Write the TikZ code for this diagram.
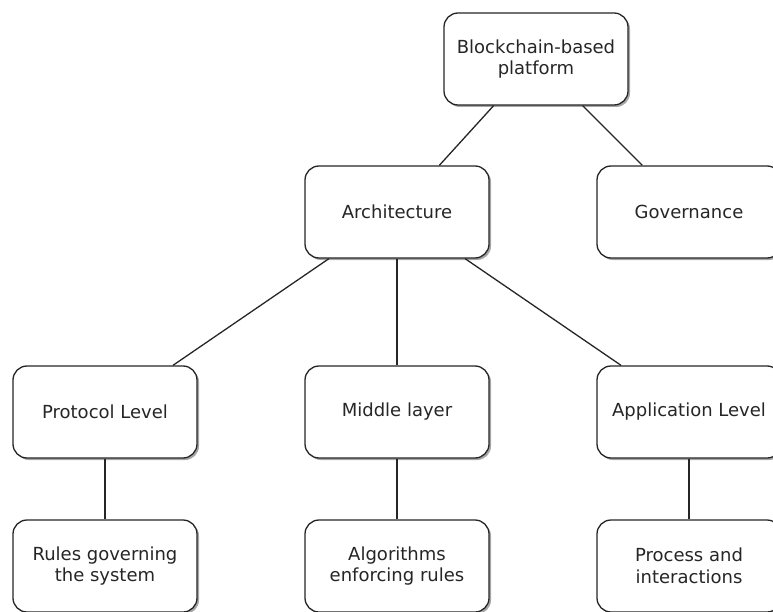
\documentclass[tikz,border=0pt]{standalone}
\usepackage{fontspec}
\setmainfont{DejaVu Sans}
\usetikzlibrary{shadows}
\begin{document}
\begin{tikzpicture}[x=1pt,y=-1pt,
  box/.style={draw=black!85, line width=1.3pt, fill=white, rounded corners=14pt,
    minimum width=184pt, minimum height=92pt, align=center, text=black!85,
    font=\fontsize{18}{21.5}\selectfont,
    drop shadow={shadow xshift=2pt, shadow yshift=-2pt, fill=black, opacity=0.35}},
  link/.style={draw=black!85, line width=1.3pt}]
  \useasboundingbox (0,0) rectangle (773,612);
  % tree of boxes
  \node[box] (root) at (536,59) {Blockchain-based\\platform};
  \node[box] (arch) at (397,212) {Architecture};
  \node[box] (gov)  at (689,212) {Governance};
  \node[box] (prot) at (105,412) {Protocol Level};
  \node[box] (mid)  at (397,412) {Middle layer};
  \node[box] (app)  at (689,412) {Application Level};
  \node[box] (rules) at (105,566) {Rules governing\\the system};
  \node[box] (algo)  at (397,566) {Algorithms\\enforcing rules};
  \node[box] (proc)  at (689,566) {Process and\\interactions};
  % connectors
  \draw[link] (root) -- (arch);
  \draw[link] (root) -- (gov);
  \draw[link] (arch) -- (prot);
  \draw[link] (arch) -- (mid);
  \draw[link] (arch) -- (app);
  \draw[link] (prot) -- (rules);
  \draw[link] (mid) -- (algo);
  \draw[link] (app) -- (proc);
\end{tikzpicture}
\end{document}
